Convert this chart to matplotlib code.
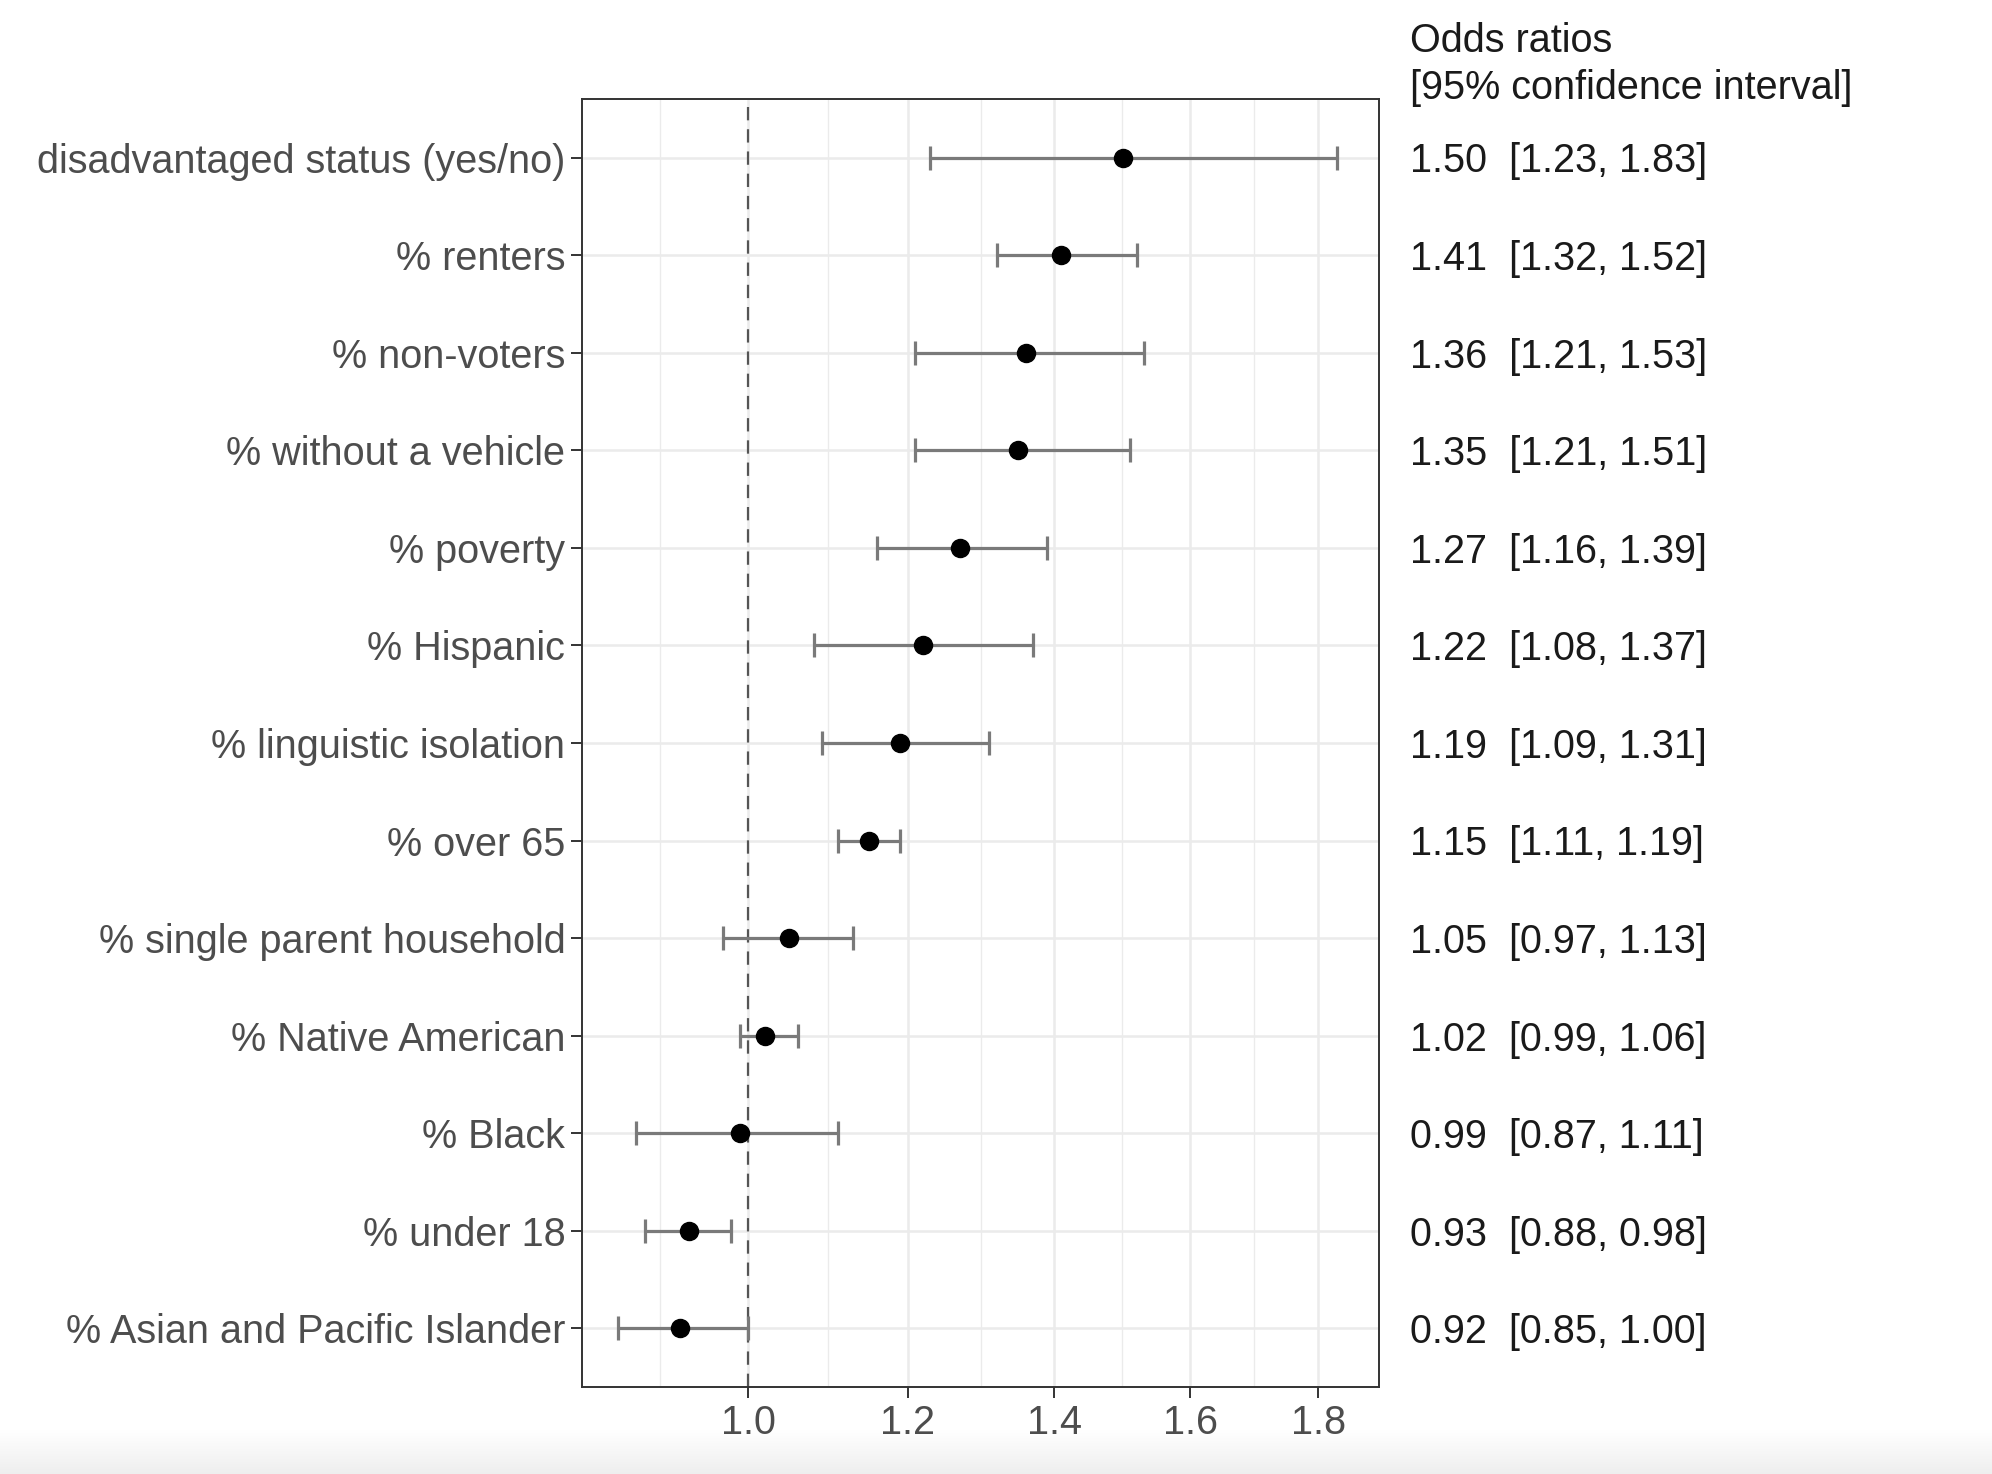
import matplotlib.pyplot as plt
import numpy as np
from matplotlib.transforms import blended_transform_factory

labels = [
    'disadvantaged status (yes/no)',
    '% renters',
    '% non-voters',
    '% without a vehicle',
    '% poverty',
    '% Hispanic',
    '% linguistic isolation',
    '% over 65',
    '% single parent household',
    '% Native American',
    '% Black',
    '% under 18',
    '% Asian and Pacific Islander',
]
odds = [1.50, 1.41, 1.36, 1.35, 1.27, 1.22, 1.19, 1.15, 1.05, 1.02, 0.99, 0.93, 0.92]
lower = [1.23, 1.32, 1.21, 1.21, 1.16, 1.08, 1.09, 1.11, 0.97, 0.99, 0.87, 0.88, 0.85]
upper = [1.83, 1.52, 1.53, 1.51, 1.39, 1.37, 1.31, 1.19, 1.13, 1.06, 1.11, 0.98, 1.00]
xticks = [1.0, 1.2, 1.4, 1.6, 1.8]

plt.rcParams['font.family'] = ['Liberation Sans', 'DejaVu Sans']
fs = 28.5

W, H = 1992, 1474
fig = plt.figure(figsize=(W / 100, H / 100), dpi=100)

# light grey band at the very bottom (screenshot edge)
bg = fig.add_axes([0, 0, 1, 44 / H], zorder=-5)
grad = np.linspace(1.0, 0.935, 50).reshape(-1, 1)
bg.imshow(np.dstack([grad, grad, grad]), aspect='auto', extent=[0, 1, 0, 1], origin='upper')
bg.axis('off')

ax = fig.add_axes([582 / W, 1 - 1387 / H, (1379 - 582) / W, (1387 - 99) / H])


def fwd(x):
    return np.sqrt(np.clip(x, 1e-9, None))


def inv(x):
    return np.square(x)


ax.set_xscale('function', functions=(fwd, inv))

odds_a = np.array(odds)
lo_a = np.array(lower)
hi_a = np.array(upper)
y = np.arange(len(labels))[::-1]

ax.axvline(1.0, color='#555555', lw=1.6, ls=(0, (6, 4)), zorder=2)
ax.errorbar(odds_a, y, xerr=[odds_a - lo_a, hi_a - odds_a], fmt='none',
            ecolor='#7a7a7a', elinewidth=2.3, capsize=8.5, capthick=2.3, zorder=3)
ax.plot(odds_a, y, 'o', color='black', markersize=13, zorder=4)

# limits: 5% expansion in sqrt space, 0.6 on the discrete axis
s_lo, s_hi = np.sqrt(lo_a.min()), np.sqrt(hi_a.max())
pad = 0.05 * (s_hi - s_lo)
ax.set_xlim((s_lo - pad) ** 2, (s_hi + pad) ** 2)
ax.set_ylim(-0.6, len(labels) - 1 + 0.6)

ax.set_xticks(xticks)
ax.set_xticklabels(['{:.1f}'.format(t) for t in xticks])
sq = np.sqrt([0.8] + xticks + [2.0])
minors = [((a + b) / 2) ** 2 for a, b in zip(sq[:-1], sq[1:])]
ax.set_xticks(minors, minor=True)
ax.set_yticks(y)
ax.set_yticklabels(labels)

ax.grid(which='major', color='#ebebeb', lw=1.8, zorder=0)
ax.grid(which='minor', axis='x', color='#ebebeb', lw=1.0, zorder=0)
ax.set_axisbelow(True)

for s in ax.spines.values():
    s.set_color('#333333')
    s.set_linewidth(1.4)
ax.tick_params(which='major', labelsize=fs, labelcolor='#4d4d4d', color='#333333',
               length=8, width=1.4, pad=4)
ax.tick_params(which='minor', length=0)

# right hand column of odds ratios
txt_c = '#1a1a1a'
fig.text(1410 / W, 1 - 41 / H, 'Odds ratios', fontsize=fs, color=txt_c, va='center', ha='left')
fig.text(1410 / W, 1 - 88 / H, '[95% confidence interval]', fontsize=fs, color=txt_c,
         va='center', ha='left')
tr = blended_transform_factory(fig.transFigure, ax.transData)
for yi, o, l, u in zip(y, odds, lower, upper):
    ax.text(1410 / W, yi - 0.04, '{:.2f}  [{:.2f}, {:.2f}]'.format(o, l, u), transform=tr,
            fontsize=fs, color=txt_c, va='center', ha='left', clip_on=False)

fig.savefig('out.png', dpi=100)
